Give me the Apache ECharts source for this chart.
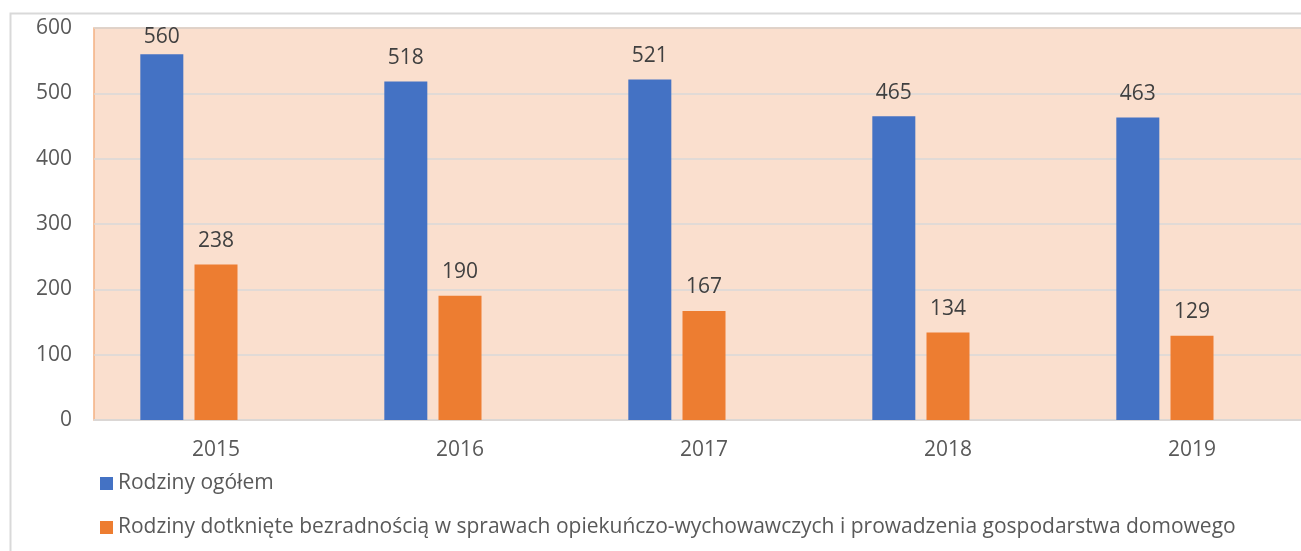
<!DOCTYPE html>
<html>
<head>
<meta charset="utf-8">
<script src="https://cdn.jsdelivr.net/npm/echarts@6/dist/echarts.min.js"></script>
<style>
  html, body { margin: 0; padding: 0; background: #fff; overflow: hidden; }
  #chart { width: 1320px; height: 551px; }
</style>
</head>
<body>
<div id="chart"></div>
<script>
// lata i wartości
const years = ['2015', '2016', '2017', '2018', '2019']
const rodzinyOgolem = [560, 518, 521, 465, 463]
const rodzinyBezradnosc = [238, 190, 167, 134, 129]
const yTicks = [0, 100, 200, 300, 400, 500, 600]

const NAME_A = 'Rodziny ogółem'
const NAME_B = 'Rodziny dotknięte bezradnością w sprawach opiekuńczo-wychowawczych i prowadzenia gospodarstwa domowego'
const FONT = '"Open Sans", "Noto Sans", sans-serif'
const FS = 21
const Y_MAX = yTicks[yTicks.length - 1]

const chart = echarts.init(document.getElementById('chart'), null, { renderer: 'canvas' })

const labelStyle = {
  show: true,
  position: 'top',
  distance: 13,
  fontSize: FS,
  fontFamily: FONT,
  color: '#404040',
}

// etykiety przy samej górze są dociskane do obszaru wykresu (jak w Excelu)
function withLabels(values) {
  return values.map((v) =>
    v > Y_MAX * 0.92 ? { value: v, label: { distance: 7 } } : v,
  )
}

chart.setOption({
  animation: false,
  textStyle: { fontFamily: FONT },
  graphic: [
    {
      type: 'rect',
      shape: { x: 10.5, y: 13.5, width: 1400, height: 600 },
      style: { fill: 'none', stroke: '#D9D9D9', lineWidth: 2 },
      z: -10,
    },
  ],
  grid: {
    left: 94,
    top: 28,
    width: 1220,
    height: 392,
    show: true,
    backgroundColor: '#FADFCE',
    borderColor: '#F4B183',
    borderWidth: 1.5,
  },
  legend: {
    orient: 'vertical',
    left: 95,
    top: 468,
    itemWidth: 13,
    itemHeight: 13,
    itemGap: 23,
    icon: 'rect',
    data: [NAME_A, NAME_B],
    textStyle: { fontSize: FS, color: '#595959', fontFamily: FONT },
  },
  xAxis: {
    type: 'category',
    data: years,
    axisTick: { show: false },
    axisLine: { lineStyle: { color: '#D9D9D9', width: 1.5 } },
    axisLabel: { fontSize: FS, color: '#595959', margin: 20, fontFamily: FONT },
  },
  yAxis: {
    type: 'value',
    min: yTicks[0],
    max: Y_MAX,
    interval: yTicks[1] - yTicks[0],
    axisLine: { show: false },
    axisTick: { show: false },
    splitLine: { lineStyle: { color: '#D9D9D9', width: 1.5 } },
    axisLabel: { fontSize: FS, color: '#595959', margin: 22, fontFamily: FONT },
  },
  series: [
    {
      name: NAME_A,
      type: 'bar',
      data: withLabels(rodzinyOgolem),
      barWidth: 43,
      barGap: '26%',
      itemStyle: { color: '#4472C4' },
      label: labelStyle,
    },
    {
      name: NAME_B,
      type: 'bar',
      data: withLabels(rodzinyBezradnosc),
      barWidth: 43,
      barGap: '26%',
      itemStyle: { color: '#ED7D31' },
      label: labelStyle,
    },
    {
      // pusta trzecia seria, jak w oryginale (rezerwuje miejsce w grupie)
      name: 'pusta',
      type: 'bar',
      data: years.map(() => null),
      barWidth: 43,
      barGap: '26%',
    },
  ],
})
</script>
</body>
</html>
